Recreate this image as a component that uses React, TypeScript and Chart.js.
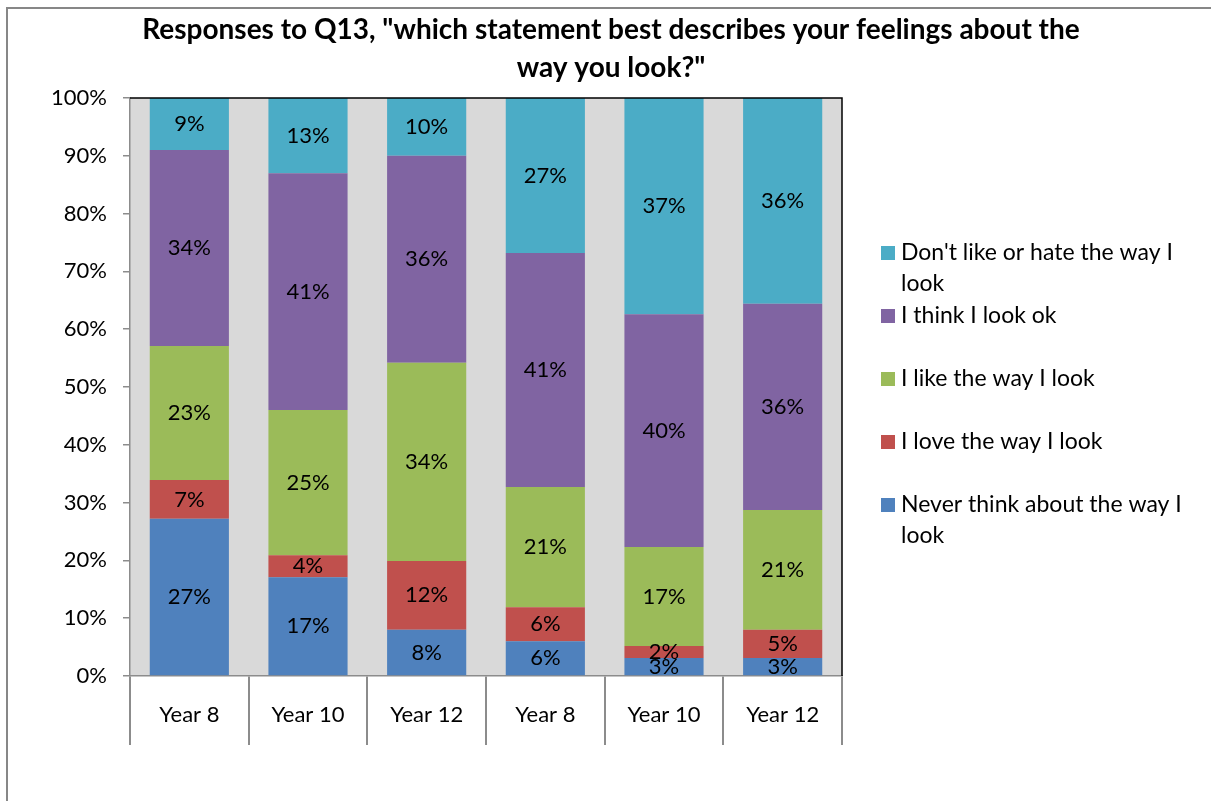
import React, { useEffect, useRef } from "react";
import { Chart, registerables } from "chart.js";

Chart.register(...registerables);

// ---------- data ----------
const categories = ["Year 8", "Year 10", "Year 12", "Year 8", "Year 10", "Year 12"];
const neverThink = [27.2, 17.1, 8.0, 6.0, 3.1, 3.1];
const loveLook = [6.7, 3.8, 11.9, 5.9, 2.1, 4.9];
const likeLook = [23.2, 25.1, 34.3, 20.8, 17.1, 20.7];
const lookOk = [33.9, 41.0, 35.8, 40.5, 40.3, 35.7];
const dontLike = [9.0, 13.0, 10.0, 26.8, 37.4, 35.6];

const seriesNames = [
  "Never think about the way I look",
  "I love the way I look",
  "I like the way I look",
  "I think I look ok",
  "Don't like or hate the way I look",
];
const seriesColors = ["#4F81BD", "#C0504D", "#9BBB59", "#8064A2", "#4BACC6"];
// legend text, top to bottom (reverse order), wrapped as in the original
const legendLines = [
  ["Don't like or hate the way I", "look"],
  ["I think I look ok"],
  ["I like the way I look"],
  ["I love the way I look"],
  ["Never think about the way I", "look"],
];
const legendColors = ["#4BACC6", "#8064A2", "#9BBB59", "#C0504D", "#4F81BD"];
const titleLines = [
  'Responses to Q13, "which statement best describes your feelings about the',
  'way you look?"',
];
const yMin = 0;
const yMax = 100;
const yStep = 10;

const FONT = "Lato, 'Open Sans', sans-serif";

const decorPlugin = {
  id: "decor",
  beforeDraw(chart: any) {
    const { ctx, chartArea } = chart;
    ctx.save();
    ctx.fillStyle = "#ffffff";
    ctx.fillRect(0, 0, chart.width, chart.height);
    ctx.fillStyle = "#D9D9D9";
    ctx.fillRect(chartArea.left, chartArea.top, chartArea.right - chartArea.left, chartArea.bottom - chartArea.top);
    ctx.restore();
  },
  afterDatasetsDraw(chart: any) {
    const { ctx } = chart;
    ctx.save();
    ctx.font = `22px ${FONT}`;
    ctx.fillStyle = "#000";
    ctx.textAlign = "center";
    ctx.textBaseline = "middle";
    chart.data.datasets.forEach((ds: any, i: number) => {
      const meta = chart.getDatasetMeta(i);
      meta.data.forEach((bar: any, j: number) => {
        const v = ds.data[j];
        const y = (bar.y + bar.base) / 2;
        ctx.fillText(Math.round(v) + "%", bar.x, y);
      });
    });
    ctx.restore();
  },
  afterDraw(chart: any) {
    const { ctx, chartArea } = chart;
    ctx.save();
    // plot area top/right border
    ctx.strokeStyle = "#000";
    ctx.lineWidth = 1.5;
    ctx.beginPath();
    ctx.moveTo(chartArea.left, chartArea.top);
    ctx.lineTo(chartArea.right, chartArea.top);
    ctx.lineTo(chartArea.right, chartArea.bottom);
    ctx.stroke();

    // title
    ctx.fillStyle = "#000";
    ctx.font = `bold 28px ${FONT}`;
    ctx.textAlign = "center";
    ctx.textBaseline = "middle";
    ctx.fillText(titleLines[0], 611, 30);
    ctx.fillText(titleLines[1], 611, 68);

    // legend
    ctx.font = `23px ${FONT}`;
    ctx.textAlign = "left";
    const startY = 253;
    const gap = 63;
    legendLines.forEach((lines, i) => {
      const y0 = startY + i * gap;
      ctx.fillStyle = legendColors[i];
      ctx.fillRect(881, y0 - 7, 14, 14);
      ctx.fillStyle = "#000";
      lines.forEach((t, k) => ctx.fillText(t, 901, y0 + k * 31));
    });

    // outer frame
    ctx.strokeStyle = "#878787";
    ctx.lineWidth = 2;
    ctx.strokeRect(7, 8, 1300, 900);
    ctx.restore();
  },
};

export default function App() {
  const ref = useRef<HTMLCanvasElement | null>(null);
  useEffect(() => {
    if (!ref.current) return;
    const seriesData = [neverThink, loveLook, likeLook, lookOk, dontLike];
    const chart = new Chart(ref.current, {
      type: "bar",
      data: {
        labels: categories,
        datasets: seriesData.map((d, i) => ({
          label: seriesNames[i],
          data: d,
          backgroundColor: seriesColors[i],
          borderWidth: 0,
          categoryPercentage: 1,
          barPercentage: 0.667,
        })),
      },
      options: {
        responsive: false,
        animation: false,
        layout: { padding: { left: 8, top: 98, right: 369, bottom: 0 } },
        plugins: {
          legend: { display: false },
          title: { display: false },
          tooltip: { enabled: false },
        },
        scales: {
          x: {
            stacked: true,
            z: 1,
            grid: {
              offset: true,
              drawOnChartArea: false,
              drawTicks: true,
              tickLength: 69,
              color: "#8C8C8C",
              lineWidth: 2,
            },
            border: { display: true, color: "#8C8C8C", width: 1.5 },
            ticks: {
              color: "#000",
              font: { family: FONT, size: 22 },
              padding: -43,
              maxRotation: 0,
            },
            afterFit: (s: any) => {
              s.height = 125;
            },
          },
          y: {
            stacked: true,
            z: 1,
            min: yMin,
            max: yMax,
            grid: {
              drawOnChartArea: false,
              drawTicks: true,
              tickLength: 7,
              color: "#8C8C8C",
              lineWidth: 1.5,
            },
            border: { display: true, color: "#8C8C8C", width: 1.5 },
            ticks: {
              stepSize: yStep,
              color: "#000",
              font: { family: FONT, size: 22 },
              padding: 16,
              callback: (v: any) => v + "%",
            },
            afterFit: (s: any) => {
              s.width = 122;
            },
          },
        },
      },
      plugins: [decorPlugin],
    });
    return () => chart.destroy();
  }, []);
  return (
    <div style={{ position: "absolute", left: 0, top: 0, width: 1211, height: 801, background: "#fff" }}>
      <canvas ref={ref} width={1211} height={801} style={{ width: 1211, height: 801, display: "block" }} />
    </div>
  );
}
